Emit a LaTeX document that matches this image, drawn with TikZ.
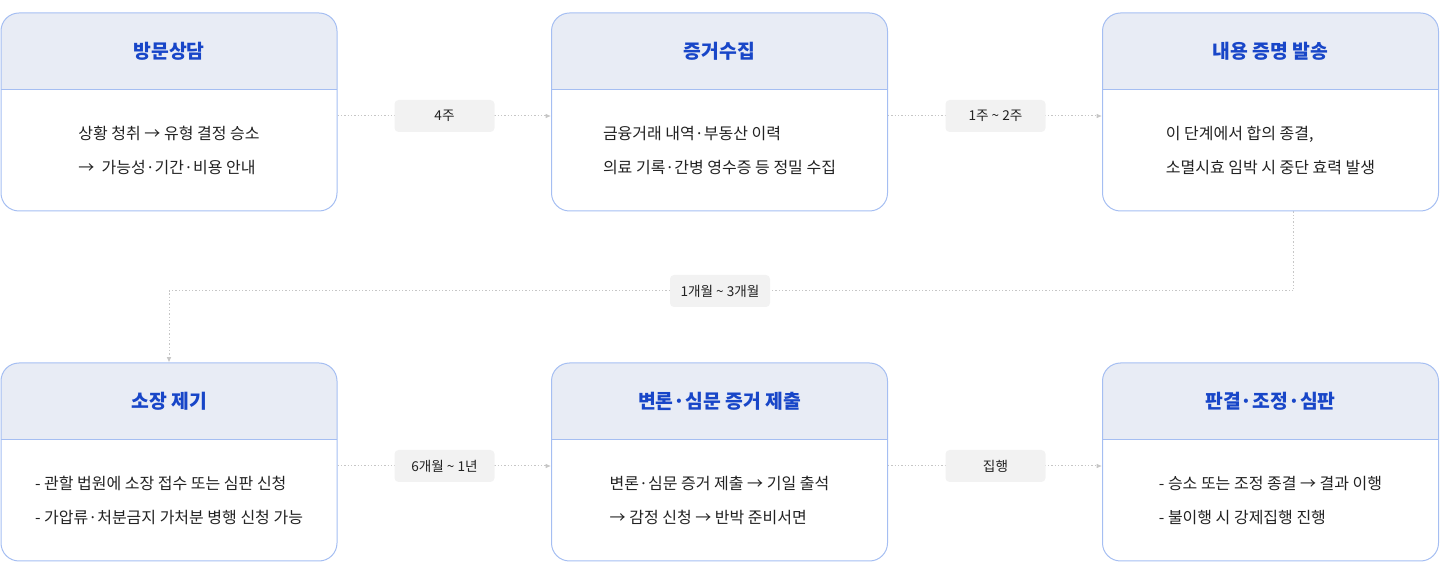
\documentclass[tikz,border=0pt]{standalone}
\usepackage{fontspec}
\setmainfont{Noto Sans CJK KR}
\usetikzlibrary{arrows.meta,backgrounds}
\definecolor{cardline}{RGB}{165,190,242}
\definecolor{headfill}{RGB}{232,236,245}
\definecolor{titleblue}{RGB}{24,70,200}
\definecolor{flowgray}{RGB}{198,198,198}
\definecolor{tagfill}{RGB}{242,242,242}
\definecolor{bodytext}{RGB}{34,34,34}

\begin{document}
\begin{tikzpicture}[x=0.75pt,y=-0.75pt,
    card/.style={draw=cardline, line width=0.75pt, rounded corners=13.5pt,
      minimum width=252pt, minimum height=148.5pt, inner sep=0pt,
      path picture={
        \fill[headfill, sharp corners] (path picture bounding box.north west) rectangle
          ([yshift=-57.75pt]path picture bounding box.north east);
        \draw[cardline, line width=0.75pt, sharp corners] ([yshift=-57.75pt]path picture bounding box.north west) --
          ([yshift=-57.75pt]path picture bounding box.north east);}},
    cardtitle/.style={font=\fontsize{14.5}{17}\selectfont\bfseries, text=titleblue},
    cardbody/.style={font=\fontsize{12}{25.5}\selectfont, text=bodytext, align=left},
    tag/.style={fill=tagfill, rounded corners=3pt, minimum width=75pt, minimum height=24pt,
      font=\fontsize{10.2}{12}\selectfont, text=bodytext},
    flow/.style={draw=flowgray, line width=0.75pt, dash pattern=on 1pt off 1.5pt,
      -{Latex[length=4pt,width=3.5pt]}}]
  \useasboundingbox (0,0) rectangle (1440,573);

  \node[card] (s1) at (169,112) {};
  \node[cardtitle] (t1) at (169,51.5) {방문상담};
  \node[cardbody] (b1) at (169,150.5) {상황 청취 → 유형 결정 승소\\→ \ 가능성·기간·비용 안내};

  \node[card] (s2) at (719.5,112) {};
  \node[cardtitle] (t2) at (719.5,51.5) {증거수집};
  \node[cardbody] (b2) at (719.5,150.5) {금융거래 내역·부동산 이력\\의료 기록·간병 영수증 등 정밀 수집};

  \node[card] (s3) at (1270.5,112) {};
  \node[cardtitle] (t3) at (1270.5,51.5) {내용 증명 발송};
  \node[cardbody] (b3) at (1270.5,150.5) {이 단계에서 합의 종결,\\소멸시효 임박 시 중단 효력 발생};

  \node[card] (s4) at (169,462) {};
  \node[cardtitle] (t4) at (169,401.5) {소장 제기};
  \node[cardbody] (b4) at (169,500.5) {- 관할 법원에 소장 접수 또는 심판 신청\\- 가압류·처분금지 가처분 병행 신청 가능};

  \node[card] (s5) at (719.5,462) {};
  \node[cardtitle] (t5) at (719.5,401.5) {변론·심문 증거 제출};
  \node[cardbody] (b5) at (719.5,500.5) {변론·심문 증거 제출 → 기일 출석\\→ 감정 신청 → 반박 준비서면};

  \node[card] (s6) at (1270.5,462) {};
  \node[cardtitle] (t6) at (1270.5,401.5) {판결·조정·심판};
  \node[cardbody] (b6) at (1270.5,500.5) {- 승소 또는 조정 종결 → 결과 이행\\- 불이행 시 강제집행 진행};

  \node[tag] (w1) at (444.5,116) {4주};
  \node[tag] (w2) at (995.5,116) {1주 \textasciitilde{} 2주};
  \node[tag] (w3) at (720,291) {1개월 \textasciitilde{} 3개월};
  \node[tag] (w4) at (444.5,466) {6개월 \textasciitilde{} 1년};
  \node[tag] (w5) at (995.5,466) {집행};

  \begin{scope}[on background layer]
    \draw[flow] (s1.east |- w1) -- (s2.west |- w1);
    \draw[flow] (s2.east |- w2) -- (s3.west |- w2);
    \draw[flow] ([xshift=17.6pt]s3.south) |- (w3.center) -| (s4.north);
    \draw[flow] (s4.east |- w4) -- (s5.west |- w4);
    \draw[flow] (s5.east |- w5) -- (s6.west |- w5);
  \end{scope}
\end{tikzpicture}
\end{document}
